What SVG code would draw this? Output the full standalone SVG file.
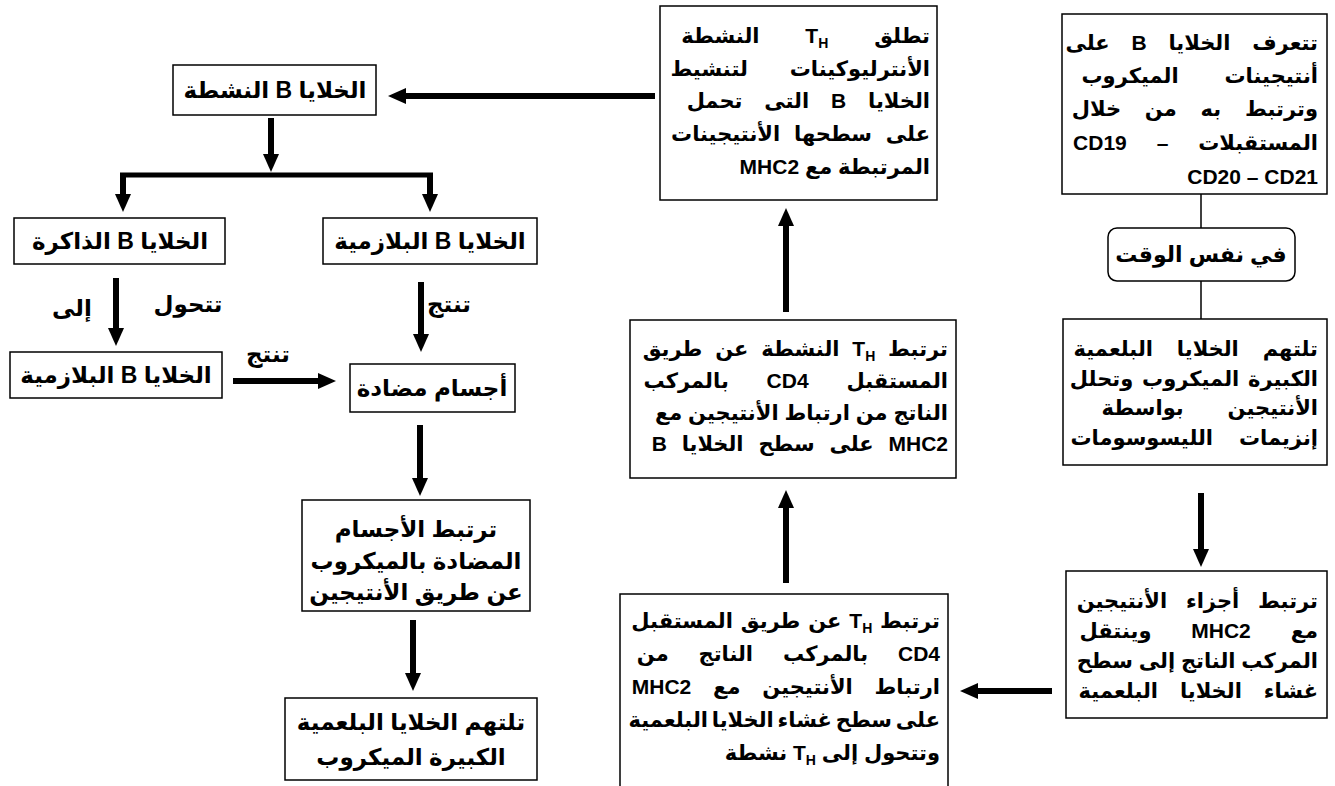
<svg xmlns="http://www.w3.org/2000/svg" width="1335" height="786" viewBox="0 0 1335 786">
<style>
.b{fill:#fff;stroke:#000;stroke-width:1.5}
.t{font-family:"Liberation Sans","DejaVu Sans",sans-serif;font-weight:bold;font-size:23px;fill:#000}
.u{font-size:21px}
.r{direction:rtl;text-anchor:start}
.c{text-anchor:middle;direction:rtl}
.s{font-size:14px}
.ln{stroke:#000;stroke-width:1.5;fill:none}
.ar{stroke:#000;stroke-width:6;fill:none;marker-end:url(#ah)}
</style>
<defs>
<marker id="ah" markerUnits="userSpaceOnUse" markerWidth="20" markerHeight="18" refX="4" refY="8" orient="auto">
<path d="M0,0 L18,8 L0,16 z" fill="#000"/>
</marker>
</defs>
<rect width="1335" height="786" fill="#fff"/>

<g id="connectors">
<line class="ln" x1="1201" y1="194" x2="1201" y2="228"/>
<line class="ln" x1="1201" y1="281" x2="1201" y2="319"/>
<line class="ar" x1="1201" y1="493" x2="1201" y2="553"/>
<line class="ar" x1="1052" y1="691" x2="974" y2="691"/>
<line class="ar" x1="786" y1="583" x2="786" y2="504"/>
<line class="ar" x1="786" y1="312" x2="786" y2="222"/>
<line class="ar" x1="655" y1="96" x2="402" y2="96"/>
<line class="ar" x1="271" y1="118" x2="271" y2="158"/>
<line stroke="#000" stroke-width="5" x1="120" y1="175" x2="433" y2="175"/>
<line class="ar" x1="123" y1="173" x2="123" y2="198"/>
<line class="ar" x1="430" y1="173" x2="430" y2="198"/>
<line class="ar" x1="116" y1="278" x2="116" y2="332"/>
<line class="ar" x1="421" y1="282" x2="421" y2="338"/>
<line class="ar" x1="233" y1="381" x2="322" y2="381"/>
<line class="ar" x1="420" y1="425" x2="420" y2="482"/>
<line class="ar" x1="413" y1="620" x2="413" y2="677"/>
<text class="t c" x="188" y="312">تتحول</text>
<text class="t c" x="72" y="316">إلى</text>
<text class="t c" x="449" y="312">تنتج</text>
<text class="t c" x="268" y="362">تنتج</text>
</g>

<g id="nodeA">
<rect class="b" x="1062" y="14" width="265" height="180"/>
<text class="t u r" x="1318" y="50" word-spacing="16">تتعرف الخلايا B على</text>
<text class="t u r" x="1318" y="83" word-spacing="40">أنتيجينات الميكروب</text>
<text class="t u r" x="1318" y="116" word-spacing="18">وترتبط به من خلال</text>
<text class="t u r" x="1318" y="150" word-spacing="24">المستقبلات – CD19</text>
<text class="t u r" x="1318" y="184">CD20 – CD21</text>
</g>

<g id="nodeSameTime">
<rect class="b" x="1108" y="228" width="187" height="53" rx="9"/>
<text class="t c" x="1201" y="262" style="font-size:22px">في نفس الوقت</text>
</g>

<g id="nodeC">
<rect class="b" x="1063" y="319" width="264" height="146"/>
<text class="t u r" x="1318" y="356" word-spacing="18">تلتهم الخلايا البلعمية</text>
<text class="t u r" x="1318" y="386" word-spacing="3">الكبيرة الميكروب وتحلل</text>
<text class="t u r" x="1318" y="415" word-spacing="38">الأنتيجين بواسطة</text>
<text class="t u r" x="1318" y="445" word-spacing="20">إنزيمات الليسوسومات</text>
</g>

<g id="nodeD">
<rect class="b" x="1066" y="571" width="261" height="147"/>
<text class="t u r" x="1318" y="608" word-spacing="13">ترتبط أجزاء الأنتيجين</text>
<text class="t u r" x="1318" y="638" word-spacing="34">مع MHC2 وينتقل</text>
<text class="t u r" x="1318" y="668">المركب الناتج إلى سطح</text>
<text class="t u r" x="1318" y="698" word-spacing="16">غشاء الخلايا البلعمية</text>
</g>

<g id="nodeE">
<rect class="b" x="620" y="594" width="328" height="200"/>
<text class="t u r" x="940" y="628" word-spacing="2">ترتبط T<tspan class="s" baseline-shift="-5">H</tspan> عن طريق المستقبل</text>
<text class="t u r" x="940" y="661" word-spacing="24">CD4 بالمركب الناتج من</text>
<text class="t u r" x="940" y="694" word-spacing="16">ارتباط الأنتيجين مع MHC2</text>
<text class="t u r" x="940" y="727" word-spacing="-2">على سطح غشاء الخلايا البلعمية</text>
<text class="t u r" x="940" y="760">وتتحول إلى T<tspan class="s" baseline-shift="-5">H</tspan> نشطة</text>
</g>

<g id="nodeF">
<rect class="b" x="630" y="320" width="326" height="158"/>
<text class="t u r" x="948" y="356" word-spacing="7">ترتبط T<tspan class="s" baseline-shift="-5">H</tspan> النشطة عن طريق</text>
<text class="t u r" x="948" y="388" word-spacing="32">المستقبل CD4 بالمركب</text>
<text class="t u r" x="948" y="420" word-spacing="0">الناتج من ارتباط الأنتيجين مع</text>
<text class="t u r" x="948" y="451" word-spacing="9">MHC2 على سطح الخلايا B</text>
</g>

<g id="nodeG">
<rect class="b" x="660" y="6" width="277" height="194"/>
<text class="t u r" x="930" y="43" word-spacing="40">تطلق T<tspan class="s" baseline-shift="-5">H</tspan> النشطة</text>
<text class="t u r" x="930" y="76" word-spacing="36">الأنترليوكينات لتنشيط</text>
<text class="t u r" x="930" y="108" word-spacing="16">الخلايا B التى تحمل</text>
<text class="t u r" x="930" y="141" word-spacing="8">على سطحها الأنتيجينات</text>
<text class="t u r" x="930" y="174">المرتبطة مع MHC2</text>
</g>

<g id="nodeH">
<rect class="b" x="173" y="65" width="203" height="50"/>
<text class="t c" x="275" y="98">الخلايا B النشطة</text>
</g>

<g id="nodeI">
<rect class="b" x="14" y="218" width="211" height="46"/>
<text class="t c" x="120" y="249">الخلايا B الذاكرة</text>
</g>

<g id="nodeJ">
<rect class="b" x="323" y="218" width="214" height="46"/>
<text class="t c" x="430" y="249">الخلايا B البلازمية</text>
</g>

<g id="nodeK">
<rect class="b" x="10" y="352" width="212" height="46"/>
<text class="t c" x="116" y="383">الخلايا B البلازمية</text>
</g>

<g id="nodeL">
<rect class="b" x="350" y="364" width="165" height="48"/>
<text class="t c" x="432" y="396">أجسام مضادة</text>
</g>

<g id="nodeM">
<rect class="b" x="302" y="500" width="228" height="111"/>
<text class="t c" x="416" y="537">ترتبط الأجسام</text>
<text class="t c" x="416" y="569">المضادة بالميكروب</text>
<text class="t c" x="416" y="600">عن طريق الأنتيجين</text>
</g>

<g id="nodeN">
<rect class="b" x="285" y="698" width="252" height="82"/>
<text class="t c" x="411" y="730">تلتهم الخلايا البلعمية</text>
<text class="t c" x="411" y="765">الكبيرة الميكروب</text>
</g>
</svg>
